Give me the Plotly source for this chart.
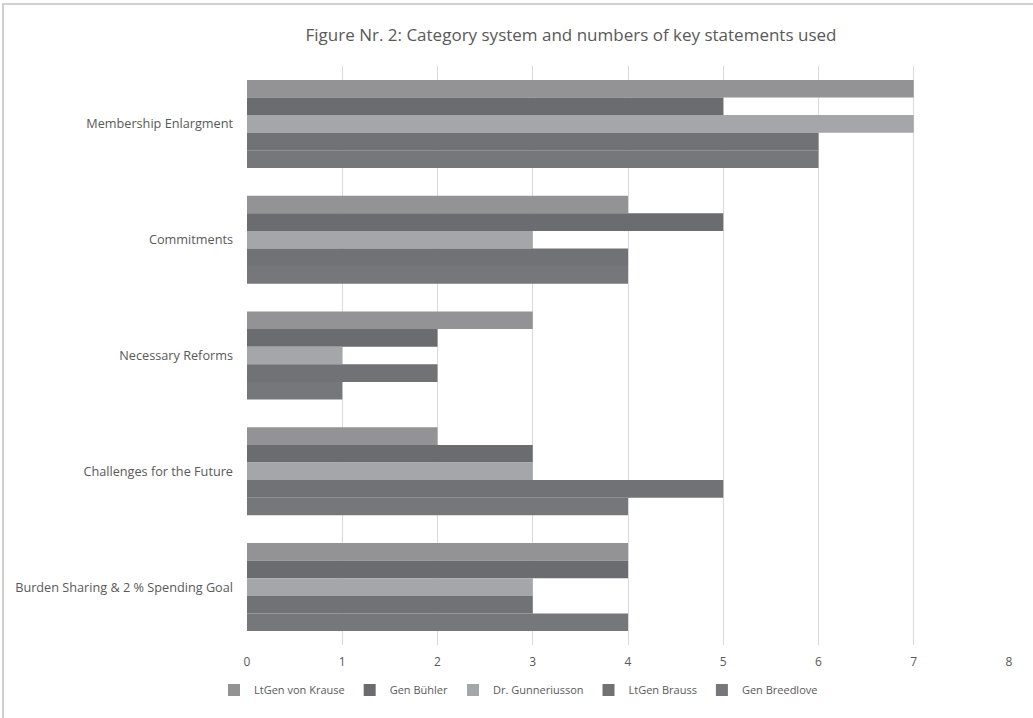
import plotly.graph_objects as go

categories = ["Membership Enlargment", "Commitments", "Necessary Reforms",
              "Challenges for the Future", "Burden Sharing & 2 % Spending Goal"]
series_names = ["LtGen von Krause", "Gen Bühler", "Dr. Gunneriusson", "LtGen Brauss", "Gen Breedlove"]
von_krause = [7, 4, 3, 2, 4]
buehler = [5, 5, 2, 3, 4]
gunneriusson = [7, 3, 1, 3, 3]
brauss = [6, 4, 2, 5, 3]
breedlove = [6, 4, 1, 4, 4]
series_values = [von_krause, buehler, gunneriusson, brauss, breedlove]
colors = ["#939396", "#6b6c70", "#a5a6a9", "#717276", "#76777b"]

FONT = "Open Sans"
fig = go.Figure()
for name, vals, c in zip(series_names, series_values, colors):
    fig.add_trace(go.Bar(y=categories, x=vals, name=name, orientation="h",
                         marker=dict(color=c, line=dict(width=0))))

fig.update_layout(
    width=1033, height=718,
    margin=dict(l=247, r=24, t=66, b=73, autoexpand=False),
    paper_bgcolor="white", plot_bgcolor="white",
    barmode="group", bargap=0.24, bargroupgap=0,
    font=dict(family=FONT, color="#595959", size=11),
    title=dict(text="Figure Nr. 2: Category system and numbers of key statements used",
               x=571 / 1033, xref="container", xanchor="center",
               y=1 - 35 / 718, yref="container", yanchor="middle",
               font=dict(family=FONT, size=17, color="#595959")),
    xaxis=dict(range=[0, 8], dtick=1, showgrid=True, gridcolor="#d9d9d9", gridwidth=1,
               zeroline=False, showline=False, ticks="", ticklen=0, ticklabelstandoff=8,
               tickfont=dict(size=12, color="#595959")),
    yaxis=dict(autorange="reversed", showgrid=False, zeroline=False, showline=False,
               ticks="", ticklabelstandoff=13, tickfont=dict(size=12.7, color="#595959")),
    legend=dict(orientation="h", x=(214 - 247) / 762, xref="paper", xanchor="left",
                y=(645 - 690) / 579, yref="paper", yanchor="middle", traceorder="normal",
                itemwidth=30, font=dict(size=11, color="#595959")),
    shapes=[dict(type="rect", xref="paper", yref="paper",
                 x0=(3 - 247) / 762, x1=1.06, y0=-0.2, y1=(645 - 4) / 579,
                 line=dict(color="#d0d0d0", width=2), fillcolor="rgba(0,0,0,0)", layer="below")],
)
fig.write_html("out.html")
